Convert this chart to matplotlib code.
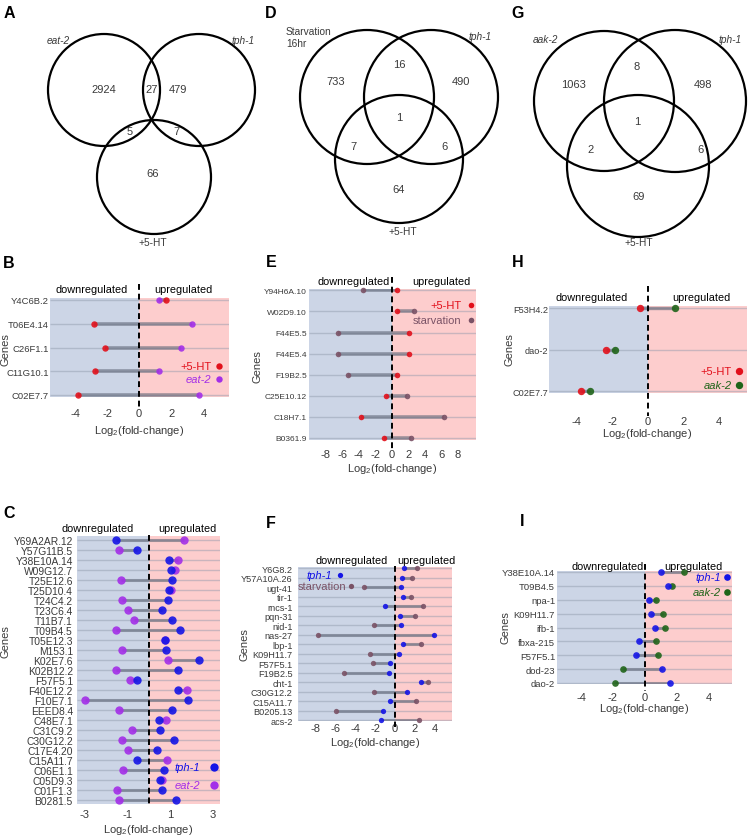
import matplotlib
matplotlib.use("Agg")
import matplotlib.pyplot as plt
from matplotlib.patches import Circle

plt.rcParams['font.family'] = ['Liberation Sans', 'DejaVu Sans']
plt.rcParams['mathtext.default'] = 'regular'

W, H = 748, 837

# ---------------- data ----------------
venn_a_sets = ['eat-2', 'tph-1', '+5-HT']
venn_a_counts = [2924, 27, 479, 5, 7, 66]
venn_d_sets = ['Starvation\n16hr', 'tph-1', '+5-HT']
venn_d_counts = [733, 16, 490, 1, 7, 6, 64]
venn_g_sets = ['aak-2', 'tph-1', '+5-HT']
venn_g_counts = [1063, 8, 498, 1, 2, 6, 69]

b_genes = ['Y4C6B.2', 'T06E4.14', 'C26F1.1', 'C11G10.1', 'C02E7.7']
b_ht = [1.65, -2.8, -2.15, -2.75, -3.8]
b_eat2 = [1.25, 3.3, 2.6, 1.25, 3.75]

c_genes = ['Y69A2AR.12', 'Y57G11B.5', 'Y38E10A.14', 'W09G12.7', 'T25E12.6',
           'T25D10.4', 'T24C4.2', 'T23C6.4', 'T11B7.1', 'T09B4.5', 'T05E12.3',
           'M153.1', 'K02E7.6', 'K02B12.2', 'F57F5.1', 'F40E12.2', 'F10E7.1',
           'EEED8.4', 'C48E7.1', 'C31C9.2', 'C30G12.2', 'C17E4.20', 'C15A11.7',
           'C06E1.1', 'C05D9.3', 'C01F1.3', 'B0281.5']
c_tph1 = [-1.5, -0.53, 0.98, 1.04, 1.09, 0.98, 0.93, 0.61, 1.12, 1.48, 0.75,
          0.81, 2.38, 1.4, -0.53, 1.37, 1.84, 1.12, 0.47, 0.53, 1.21, 0.42,
          -0.53, 0.73, 0.55, 0.61, 1.28]
c_eat2 = [1.64, -1.37, 1.37, 1.25, -1.29, 1.06, -1.26, -0.97, -0.69, -1.5, 0.75,
          -1.23, 0.9, -1.5, -0.87, 1.79, -2.98, -1.4, 0.81, -0.76, -1.26, -0.97,
          0.86, -1.2, 0.64, -1.46, -1.4]

e_genes = ['Y94H6A.10', 'W02D9.10', 'F44E5.5', 'F44E5.4', 'F19B2.5',
           'C25E10.12', 'C18H7.1', 'B0361.9']
e_ht = [0.65, 0.6, 2.02, 2.02, 0.57, -0.77, -3.8, -1.0]
e_starv = [-3.56, 2.67, -6.56, -6.48, -5.3, 1.86, 6.28, 2.27]

f_genes = ['Y6G8.2', 'Y57A10A.26', 'ugt-41', 'tir-1', 'rncs-1', 'pqn-31',
           'nid-1', 'nas-27', 'lbp-1', 'K09H11.7', 'F57F5.1', 'F19B2.5',
           'cht-1', 'C30G12.2', 'C15A11.7', 'B0205.13', 'acs-2']
f_tph1 = [0.94, 0.71, 0.64, 0.78, -1.01, 0.54, 0.61, 3.98, 0.84, 0.4, -0.51,
          -0.61, 2.63, 1.25, -0.51, -1.18, -1.42]
f_starv = [2.19, 1.69, -3.1, 1.62, 2.87, 1.99, -2.13, -7.8, 2.63, -2.5, -2.19,
           -5.2, 3.37, -2.13, 2.09, -5.94, 2.4]

h_genes = ['F53H4.2', 'dao-2', 'C02E7.7']
h_ht = [-0.43, -2.37, -3.77]
h_aak2 = [1.53, -1.83, -3.24]

i_genes = ['Y38E10A.14', 'T09B4.5', 'npa-1', 'K09H11.7', 'ifb-1', 'fbxa-215',
           'F57F5.1', 'dod-23', 'dao-2']
i_tph1 = [1.0, 1.47, 0.27, 0.38, 0.63, -0.36, -0.52, 1.11, 1.57]
i_aak2 = [2.49, 1.72, 0.69, 1.15, 1.3, 0.71, 0.82, -1.36, -1.84]

# ---------------- style ----------------
RED = '#e2101b'
PURPLE = '#a32ee8'
BLUE = '#1414e6'
GREEN = '#1f6419'
STARV = '#7a5266'
BG_DOWN = '#ccd5e6'
BG_UP = '#fdcdcd'
TXT = '#3a3a3a'

fig = plt.figure(figsize=(W / 100, H / 100), dpi=100)

# overlay axes in pixel units for venns, letters and labels (drawn on top)
ov = fig.add_axes([0, 0, 1, 1])
ov.set_xlim(0, W)
ov.set_ylim(H, 0)
ov.axis('off')
ov.set_zorder(10)

for letter, (x, y) in zip('ABCDEFGHI', [(9, 13), (9, 263), (9, 513), (271, 13), (271, 262),
                                         (271, 523), (518, 13), (518, 262), (522, 522)]):
    ov.text(x, y, letter, fontsize=11.5, fontweight='bold', ha='center', va='center', color='black')


def venn(circles, set_names, name_pos, counts, count_pos):
    for (cx, cy, r) in circles:
        ov.add_patch(Circle((cx, cy), r, fill=False, lw=1.6, ec='black'))
    for name, (x, y, ha) in zip(set_names, name_pos):
        italic = name != '+5-HT' and not name.startswith('Starv')
        ov.text(x, y, name, fontsize=7.3, ha=ha, va='center', color=TXT,
                style='italic' if italic else 'normal', linespacing=1.3)
    for c, (x, y) in zip(counts, count_pos):
        ov.text(x, y, str(c), fontsize=8, ha='center', va='center', color=TXT)


venn([(104, 91, 56), (199, 91, 56), (154, 178, 57)], venn_a_sets,
     [(58, 41, 'center'), (243, 41, 'center'), (153, 243, 'center')],
     venn_a_counts, [(104, 90), (152, 90), (178, 90), (130, 132), (176, 132), (153, 174)])
venn([(367, 98, 67), (431, 98, 67), (399, 160, 64)], venn_d_sets,
     [(286, 38, 'left'), (480, 37, 'center'), (403, 232, 'center')],
     venn_d_counts, [(336, 82), (399, 65), (461, 82), (399, 118), (353, 147), (445, 147), (399, 190)])
venn([(604, 102, 70), (675, 102, 71), (638, 167, 71)], venn_g_sets,
     [(545, 40, 'center'), (730, 40, 'center'), (639, 243, 'center')],
     venn_g_counts, [(574, 85), (637, 67), (703, 85), (637, 122), (591, 150), (701, 150), (639, 197)])


def lollipop(genes, s1, s2, c1, c2, names, box, xlim, xticks, dash, tickpad, genepad,
             genefs, dot, lw, legend, heads, xlab, ylab):
    left, right, top_row, bot_row, pad_px = box
    n = len(genes)
    step = (bot_row - top_row) / (n - 1)
    top = top_row - pad_px
    bottom = bot_row + pad_px
    ax = fig.add_axes([left / W, 1 - bottom / H, (right - left) / W, (bottom - top) / H])
    p = pad_px / step
    ax.set_xlim(*xlim)
    ax.set_ylim(n - 1 + p, -p)
    for s in ax.spines.values():
        s.set_visible(False)
    ax.axvspan(xlim[0], 0, color=BG_DOWN, lw=0, zorder=0)
    ax.axvspan(0, xlim[1], color=BG_UP, lw=0, zorder=0)
    rows = list(range(n))
    ax.hlines(rows, xlim[0], xlim[1], color='#8d97aa', alpha=0.45, lw=1.0, zorder=1)
    ax.hlines(rows, s1, s2, color='#5f6677', alpha=0.6, lw=lw, zorder=2)
    yd = lambda ypx: (ypx - top_row) / step
    ax.plot([0, 0], [yd(dash[0]), yd(dash[1])], color='black', lw=1.4, ls=(0, (3, 2)),
            clip_on=False, zorder=3)
    ax.plot(s2, rows, 'o', color=c2, ms=dot, mew=0, alpha=0.9, zorder=4, clip_on=False)
    ax.plot(s1, rows, 'o', color=c1, ms=dot, mew=0, alpha=0.9, zorder=5, clip_on=False)
    ax.set_yticks(rows)
    ax.set_yticklabels(genes, fontsize=genefs, color=TXT)
    ax.set_xticks(xticks)
    ax.set_xticklabels([str(t) for t in xticks], fontsize=8, color=TXT)
    ax.tick_params(axis='x', length=0, pad=tickpad)
    ax.tick_params(axis='y', length=0, pad=genepad)
    # legend: dot x, text right x (data units), y (pixels)
    for name, col, (dx, tx, ly) in zip(names, (c1, c2), legend):
        ax.plot([dx], [yd(ly)], 'o', color=col, ms=dot, mew=0, clip_on=False, zorder=6)
        ax.text(tx, yd(ly), name, color=col, fontsize=8, ha='right', va='center',
                style='normal' if name in ('+5-HT', 'starvation') else 'italic',
                clip_on=False, zorder=6)
    (dnx, upx, hy) = heads
    ov.text(dnx, hy, 'downregulated', fontsize=7.8, ha='center', va='center', color='black')
    ov.text(upx, hy, 'upregulated', fontsize=7.8, ha='center', va='center', color='black')
    ov.text(xlab[0], xlab[1], 'Log$_2$(fold-change)', fontsize=8, ha='center', va='center', color=TXT)
    ov.text(ylab[0], ylab[1], 'Genes', fontsize=8, rotation=90, ha='center', va='center', color=TXT)
    return ax


# B
lollipop(b_genes, b_ht, b_eat2, RED, PURPLE, ['+5-HT', 'eat-2'],
         (50, 229, 301, 396, 2), (-5.56, 5.6), [-4, -2, 0, 2, 4], (285, 411), 8.0, 1.0,
         6.8, 4.6, 2.6, [(5.0, 4.5, 367), (5.0, 4.5, 380)], (92, 183, 290), (139, 431), (6, 350))
# C
lollipop(c_genes, c_tph1, c_eat2, BLUE, PURPLE, ['tph-1', 'eat-2'],
         (77, 220, 540.7, 801, 4), (-3.34, 3.34), [-3, -1, 1, 3], (536, 806), 3.5, 3.0,
         7.4, 6.0, 2.2, [(3.06, 2.4, 768), (3.06, 2.4, 786)], (98, 187, 529), (148, 830), (6, 642))
# E
lollipop(e_genes, e_ht, e_starv, RED, STARV, ['+5-HT', 'starvation'],
         (309, 476, 291.3, 439, 1.5), (-10.05, 10.2), [-8, -6, -4, -2, 0, 2, 4, 6, 8], (278, 452), 6.5, 1.5,
         6.0, 4.0, 2.6, [(9.56, 8.4, 305.7), (9.56, 8.4, 320.7)], (354, 441, 282), (392, 469), (258, 367))
# F
lollipop(f_genes, f_tph1, f_starv, BLUE, STARV, ['tph-1', 'starvation'],
         (297.7, 452, 569.3, 721.3, 1), (-9.85, 5.77), [-8, -6, -4, -2, 0, 2, 4], (566.7, 728), 1.5, 3.6,
         6.6, 3.8, 2.2, [(-5.57, -6.41, 575.7), (-4.45, -4.96, 587.3)], (352, 426, 561), (375, 743), (245, 645))
# H
lollipop(h_genes, h_ht, h_aak2, RED, GREEN, ['+5-HT', 'aak-2'],
         (549.3, 746.7, 309.3, 392.3, 2), (-5.56, 5.59), [-4, -2, 0, 2, 4], (286.7, 416.7), 16.0, 1.0,
         6.6, 5.3, 2.4, [(5.15, 4.75, 371.7), (5.15, 4.75, 385.7)], (592, 701, 298), (647, 434), (510, 350))
# I
lollipop(i_genes, i_tph1, i_aak2, BLUE, GREEN, ['tph-1', 'aak-2'],
         (557.3, 732, 573, 684, 1), (-5.5, 5.49), [-4, -2, 0, 2, 4], (565, 692), 5.5, 1.6,
         6.8, 4.8, 2.2, [(5.2, 4.8, 578.3), (5.2, 4.8, 593.3)], (608, 693, 567), (644, 709), (506, 628))

fig.savefig('out.png', dpi=100)
